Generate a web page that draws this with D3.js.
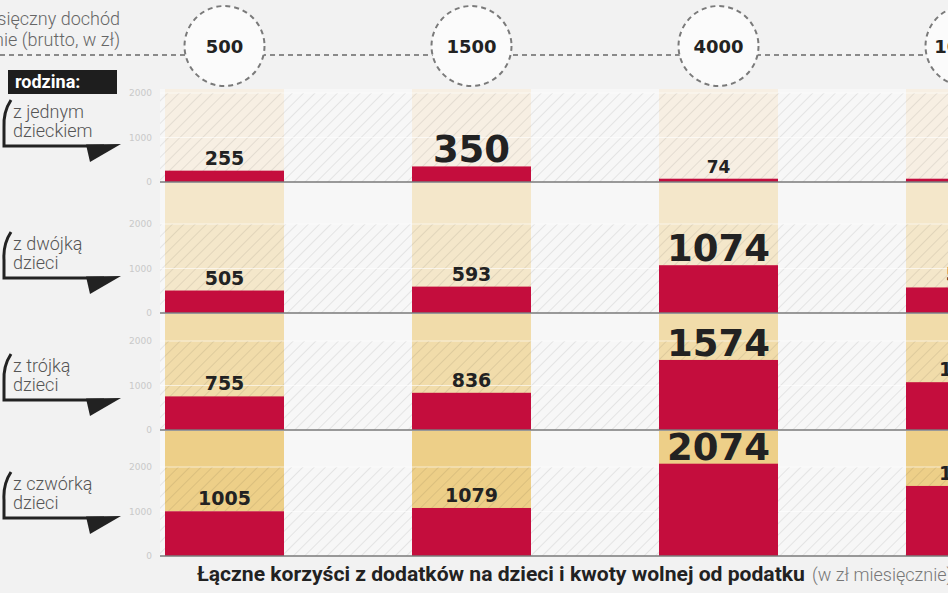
<!DOCTYPE html>
<html><head><meta charset="utf-8">
<script src="https://cdn.jsdelivr.net/npm/d3@7/dist/d3.min.js"></script>
<style>
html,body{margin:0;padding:0;background:#f2f2f2;overflow:hidden}
svg{display:block}
</style></head>
<body>
<svg id="c" width="948" height="593"></svg>
<script>
// ---- data ----
const incomes = ["500", "1500", "4000", "10000"];
const familyLabels = [["z jednym", "dzieckiem"], ["z dwójką", "dzieci"], ["z trójką", "dzieci"], ["z czwórką", "dzieci"]];
const oneChild = [255, 350, 74, 74];
const twoChildren = [505, 593, 1074, 574];
const threeChildren = [755, 836, 1574, 1074];
const fourChildren = [1005, 1079, 2074, 1574];
const yTickValues = [0, 1000, 2000];
const headerLines = ["Miesięczny dochód", "na osobę w rodzinie (brutto, w zł)"];
const familyTitle = "rodzina:";
const titleBold = "Łączne korzyści z dodatków na dzieci i kwoty wolnej od podatku";
const titleLight = "(w zł miesięcznie)";

const series = [oneChild, twoChildren, threeChildren, fourChildren];

// ---- layout ----
const W = 948, H = 593;
const svg = d3.select("#c");
const baselines = [182, 313, 430, 556];
const tops = [89, 183, 314, 431];
const unitPx = 89; // pixels for 2000
const cellTints = ["#f7efe3", "#f4e7ca", "#f1dcaa", "#edcf88"];
const red = "#c40d3d";

const x = d3.scaleBand().domain(incomes).range([165, 165 + 3 * 247 + 119]).paddingInner(1 - 119 / 247).paddingOuter(0);

const defs = svg.append("defs");
const pat = defs.append("pattern").attr("id", "hatch").attr("patternUnits", "userSpaceOnUse")
  .attr("width", 8).attr("height", 8).attr("patternTransform", "rotate(45)");
pat.append("line").attr("x1", 0).attr("y1", 0).attr("x2", 0).attr("y2", 8)
  .attr("stroke", "#000").attr("stroke-opacity", 0.08).attr("stroke-width", 2);

svg.append("rect").attr("x", 160).attr("y", tops[0]).attr("width", W - 160).attr("height", baselines[3] - tops[0]).attr("fill", "#f7f7f7");

series.forEach((vals, r) => {
  const y = d3.scaleLinear().domain([0, 2000]).range([baselines[r], baselines[r] - unitPx]);
  const g = svg.append("g");
  g.selectAll("rect.cell").data(incomes).join("rect").attr("class", "cell")
    .attr("x", d => x(d)).attr("width", x.bandwidth())
    .attr("y", tops[r]).attr("height", baselines[r] - tops[r]).attr("fill", cellTints[r]);
  g.append("rect").attr("x", 160).attr("width", W - 160)
    .attr("y", y(2000)).attr("height", y(0) - y(2000)).attr("fill", "url(#hatch)");
  g.selectAll("line.grid").data([1000, 2000]).join("line").attr("class", "grid")
    .attr("x1", 160).attr("x2", W).attr("y1", d => y(d)).attr("y2", d => y(d))
    .attr("stroke", "#fff").attr("stroke-opacity", 0.6).attr("stroke-width", 1);
  g.selectAll("rect.bar").data(vals).join("rect").attr("class", "bar")
    .attr("x", (d, i) => x(incomes[i])).attr("width", x.bandwidth())
    .attr("y", d => y(d)).attr("height", d => y(0) - y(d)).attr("fill", red);
  g.append("line").attr("x1", 160).attr("x2", W).attr("y1", y(0)).attr("y2", y(0))
    .attr("stroke", "#7a7a7a").attr("stroke-width", 1.5);
  const axis = d3.axisLeft(y).tickValues(yTickValues).tickFormat(d3.format("d")).tickSize(0).tickPadding(0);
  const ag = g.append("g").attr("transform", "translate(152,0)").call(axis);
  ag.select(".domain").remove();
  ag.selectAll("text").attr("fill", "#c9c9c9").attr("font-family", "DejaVu Sans").attr("font-size", 9);
  const mx = d3.max(vals);
  g.selectAll("text.val").data(vals).join("text").attr("class", "val")
    .attr("x", (d, i) => x(incomes[i]) + x.bandwidth() / 2)
    .attr("y", d => y(d) - (d === mx ? 4 : 6))
    .attr("text-anchor", "middle").attr("font-family", "DejaVu Sans").attr("font-weight", "bold")
    .attr("font-size", d => d === mx ? 37 : (d < 100 ? 17 : 19))
    .attr("fill", "#222").text(d => d);

  const ly = [146, 278, 400, 518][r];
  const lg = svg.append("g");
  lg.append("path").attr("d", `M11,${ly - 46} Q3,${ly - 34} 4,${ly - 18} L4,${ly} L104,${ly}`)
    .attr("fill", "none").attr("stroke", "#222").attr("stroke-width", 3);
  lg.append("path").attr("d", `M86,${ly - 1.5} L121,${ly - 2} L90,${ly + 16} Z`).attr("fill", "#222");
  lg.selectAll("text").data(familyLabels[r]).join("text")
    .attr("x", 13).attr("y", (d, i) => ly - 28 + i * 19)
    .attr("font-family", "Roboto").attr("font-weight", 300).attr("font-size", 18)
    .attr("fill", "#555").text(d => d);
});

svg.append("line").attr("x1", 0).attr("x2", W).attr("y1", 55).attr("y2", 55)
  .attr("stroke", "#8a8a8a").attr("stroke-width", 2).attr("stroke-dasharray", "5,4");
const hg = svg.selectAll("g.inc").data(incomes).join("g").attr("class", "inc")
  .attr("transform", d => `translate(${x(d) + x.bandwidth() / 2},46)`);
hg.append("circle").attr("r", 40).attr("fill", "#fbfbfb")
  .attr("stroke", "#7a7a7a").attr("stroke-width", 2).attr("stroke-dasharray", "5,4");
hg.append("text").attr("y", 7).attr("text-anchor", "middle")
  .attr("font-family", "DejaVu Sans").attr("font-weight", "bold").attr("font-size", 18)
  .attr("fill", "#222").text(d => d);

svg.selectAll("text.hdr").data(headerLines).join("text").attr("class", "hdr")
  .attr("x", 120).attr("y", (d, i) => 25 + i * 21).attr("text-anchor", "end")
  .attr("font-family", "Roboto").attr("font-weight", 300).attr("font-size", 18)
  .attr("fill", "#666").text(d => d);

svg.append("rect").attr("x", 8).attr("y", 70).attr("width", 109).attr("height", 24).attr("fill", "#1e1e1e");
svg.append("text").attr("x", 15).attr("y", 88).attr("font-family", "Roboto").attr("font-weight", "bold")
  .attr("font-size", 18).attr("fill", "#fff").text(familyTitle);

const tb = svg.append("text").attr("x", 197).attr("y", 581).attr("font-family", "Roboto")
  .attr("font-weight", "bold").attr("font-size", 20).attr("fill", "#222").text(titleBold);
const targetW = 608;
const w0 = tb.node().getComputedTextLength();
tb.attr("font-size", 20 * targetW / w0);
svg.append("text").attr("x", 197 + targetW + 7).attr("y", 581).attr("font-family", "Roboto")
  .attr("font-weight", 300).attr("font-size", 18).attr("fill", "#777").text(titleLight);
</script>
</body></html>
